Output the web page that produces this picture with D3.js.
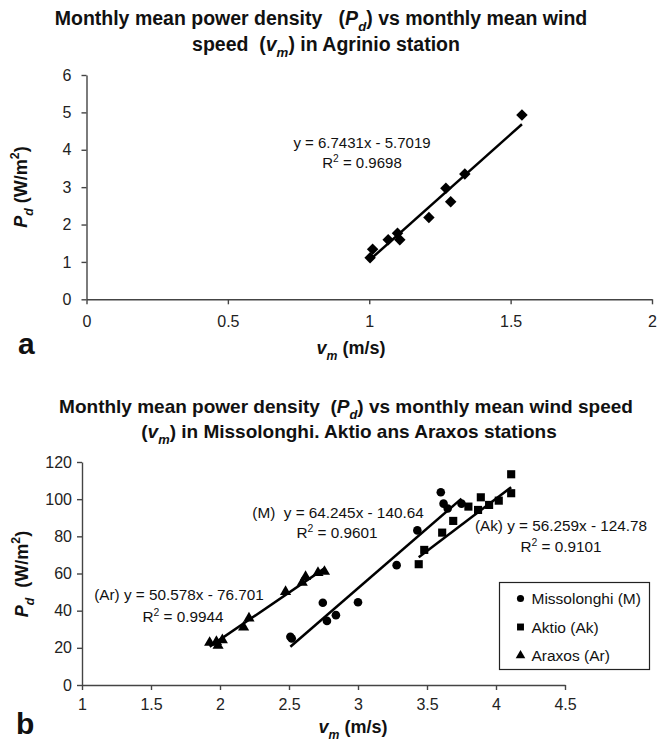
<!DOCTYPE html>
<html>
<head>
<meta charset="utf-8">
<script src="https://cdn.jsdelivr.net/npm/d3@7"></script>
<style>
  html, body { margin: 0; padding: 0; background: #fff; }
  svg { display: block; font-family: "Liberation Sans", Arial, Helvetica, sans-serif; }
</style>
</head>
<body>
<svg id="chart" width="672" height="741"></svg>
<script>
// Agrinio station (panel a)
const agrinioV = [1.003, 1.012, 1.067, 1.10, 1.108, 1.211, 1.271, 1.288, 1.338, 1.54];
const agrinioP = [1.11, 1.34, 1.59, 1.77, 1.59, 2.19, 2.97, 2.61, 3.35, 4.93];
const agrinioFit = [6.7431, -5.7019, 0.9698];

// Missolonghi (M)
const missV = [2.51, 2.52, 2.745, 2.775, 2.84, 3.0, 3.28, 3.43, 3.60, 3.62, 3.65, 3.75];
const missP = [26.0, 25.0, 44.3, 34.5, 37.6, 44.5, 64.5, 83.2, 103.7, 97.6, 95.0, 97.6];
const missFit = [64.245, -140.64, 0.9601];

// Aktio (Ak)
const aktioV = [3.44, 3.48, 3.61, 3.69, 3.80, 3.87, 3.89, 3.95, 4.02, 4.11, 4.11];
const aktioP = [65.0, 72.7, 82.0, 88.3, 96.0, 94.2, 101.0, 96.9, 99.2, 103.2, 113.4];
const aktioFit = [56.259, -124.78, 0.9101];

// Araxos (Ar)
const araxosV = [1.925, 1.974, 1.986, 2.017, 2.171, 2.21, 2.475, 2.596, 2.62, 2.71, 2.757];
const araxosP = [22.8, 23.3, 21.2, 24.2, 31.0, 35.9, 50.2, 55.1, 58.3, 60.4, 61.0];
const araxosFit = [50.578, -76.701, 0.9944];

const aTicksX = [0, 0.5, 1, 1.5, 2];
const aTicksY = [0, 1, 2, 3, 4, 5, 6];
const bTicksX = [1, 1.5, 2, 2.5, 3, 3.5, 4, 4.5];
const bTicksY = [0, 20, 40, 60, 80, 100, 120];

const legendNames = ['Missolonghi (M)', 'Aktio (Ak)', 'Araxos (Ar)'];

const svg = d3.select('#chart');
svg.append('rect').attr('width', 672).attr('height', 741).attr('fill', '#fff');

// text with italic / sub / sup parts
function rich(g, x, y, parts, size, weight, anchor) {
  const t = g.append('text')
    .attr('x', x).attr('y', y)
    .attr('font-size', size)
    .attr('font-weight', weight || 'normal')
    .attr('text-anchor', anchor || 'middle')
    .attr('fill', '#111')
    .style('white-space', 'pre');
  let shift = 0;
  parts.forEach((p) => {
    const s = t.append('tspan').text(p.t);
    const target = p.sub ? size * 0.32 : p.sup ? -size * 0.42 : 0;
    if (target !== shift) { s.attr('dy', target - shift); shift = target; }
    if (p.sub || p.sup) s.attr('font-size', size * 0.68);
    if (p.i) s.attr('font-style', 'italic');
  });
  return t;
}

function fmt(n) { return String(Math.abs(n)); }

function drawPanel(cfg) {
  const x = d3.scaleLinear().domain(cfg.xDomain).range(cfg.xRange);
  const y = d3.scaleLinear().domain(cfg.yDomain).range(cfg.yRange);
  const g = svg.append('g');

  const xAxis = d3.axisBottom(x).tickValues(cfg.ticksX).tickFormat(d3.format('')).tickSizeInner(5).tickSizeOuter(0).tickPadding(cfg.xPad);
  const yAxis = d3.axisLeft(y).tickValues(cfg.ticksY).tickFormat(d3.format('')).tickSizeInner(5).tickSizeOuter(0).tickPadding(cfg.yPad);

  const gx = g.append('g').attr('transform', `translate(0,${cfg.yRange[0]})`).call(xAxis);
  const gy = g.append('g').attr('transform', `translate(${cfg.xRange[0]},0)`).call(yAxis);
  [gx, gy].forEach((a) => {
    a.selectAll('path, line').attr('stroke', '#444').attr('stroke-width', 1.4);
    a.selectAll('text').attr('font-size', 16).attr('fill', '#222')
      .style('font-family', '"Liberation Sans", Arial, sans-serif');
  });

  // trend lines
  cfg.series.forEach((s) => {
    const x0 = d3.min(s.v), x1 = d3.max(s.v);
    g.append('line')
      .attr('x1', x(x0)).attr('y1', y(s.fit[0] * x0 + s.fit[1]))
      .attr('x2', x(x1)).attr('y2', y(s.fit[0] * x1 + s.fit[1]))
      .attr('stroke', '#000').attr('stroke-width', 2.5);
  });

  // markers
  cfg.series.forEach((s) => {
    const sym = d3.symbol().type(s.shape).size(s.size);
    g.append('g').selectAll('path')
      .data(s.v.map((v, i) => [v, s.p[i]]))
      .join('path')
      .attr('d', sym)
      .attr('transform', (d) => `translate(${x(d[0])},${y(d[1])})${s.rot ? ' rotate(45)' : ''}`)
      .attr('fill', '#000');
  });

  return { x, y, g };
}

// ---------- panel a ----------
const A = drawPanel({
  xDomain: [0, 2], xRange: [86.5, 652],
  yDomain: [0, 6], yRange: [299.3, 75],
  ticksX: aTicksX, ticksY: aTicksY, xPad: 11, yPad: 10,
  series: [{ v: agrinioV, p: agrinioP, fit: agrinioFit, shape: d3.symbolSquare, size: 66, rot: true }]
});

rich(svg, 321, 25, [
  { t: 'Monthly mean power density   (' }, { t: 'P', i: true }, { t: 'd', i: true, sub: true }, { t: ') vs monthly mean wind' }
], 19.5, 'bold');
rich(svg, 326, 51, [
  { t: 'speed  (' }, { t: 'v', i: true }, { t: 'm', i: true, sub: true }, { t: ') in Agrinio station' }
], 19.5, 'bold');

rich(svg, 362, 148, [{ t: `y = ${agrinioFit[0]}x - ${fmt(agrinioFit[1])}` }], 15);
rich(svg, 362, 168, [{ t: 'R' }, { t: '2', sup: true }, { t: ` = ${agrinioFit[2]}` }], 15);

rich(svg, 351, 354, [{ t: 'v', i: true }, { t: 'm', i: true, sub: true }, { t: ' (m/s)' }], 18, 'bold');
rich(svg, 0, 0, [{ t: 'P', i: true }, { t: 'd', i: true, sub: true }, { t: ' (W/m' }, { t: '2', sup: true }, { t: ')' }], 18, 'bold')
  .attr('transform', 'translate(27,187) rotate(-90)');
svg.append('text').attr('x', 18).attr('y', 354).attr('font-size', 30).attr('font-weight', 'bold').attr('fill', '#111').text('a');

// ---------- panel b ----------
const B = drawPanel({
  xDomain: [1, 4.5], xRange: [82, 565],
  yDomain: [0, 120], yRange: [685, 462],
  ticksX: bTicksX, ticksY: bTicksY, xPad: 9, yPad: 5,
  series: [
    { v: missV, p: missP, fit: missFit, shape: d3.symbolCircle, size: 58 },
    { v: aktioV, p: aktioP, fit: aktioFit, shape: d3.symbolSquare, size: 66 },
    { v: araxosV, p: araxosP, fit: araxosFit, shape: d3.symbolTriangle, size: 54 }
  ]
});

rich(svg, 346, 413, [
  { t: 'Monthly mean power density  (' }, { t: 'P', i: true }, { t: 'd', i: true, sub: true }, { t: ') vs monthly mean wind speed' }
], 19, 'bold');
rich(svg, 349, 438, [
  { t: '(' }, { t: 'v', i: true }, { t: 'm', i: true, sub: true }, { t: ') in Missolonghi. Aktio ans Araxos stations' }
], 19, 'bold');

rich(svg, 338, 518, [{ t: `(M)  y = ${missFit[0]}x - ${fmt(missFit[1])}` }], 15.3);
rich(svg, 337, 538, [{ t: 'R' }, { t: '2', sup: true }, { t: ` = ${missFit[2]}` }], 15.3);
rich(svg, 561, 531, [{ t: `(Ak) y = ${aktioFit[0]}x - ${fmt(aktioFit[1])}` }], 15.3);
rich(svg, 561, 552, [{ t: 'R' }, { t: '2', sup: true }, { t: ` = ${aktioFit[2]}` }], 15.3);
rich(svg, 179, 600, [{ t: `(Ar) y = ${araxosFit[0]}x - ${fmt(araxosFit[1])}` }], 15.3);
rich(svg, 183, 622, [{ t: 'R' }, { t: '2', sup: true }, { t: ` = ${araxosFit[2]}` }], 15.3);

rich(svg, 353, 733, [{ t: 'v', i: true }, { t: 'm', i: true, sub: true }, { t: ' (m/s)' }], 18, 'bold');
rich(svg, 0, 0, [{ t: 'P', i: true }, { t: 'd', i: true, sub: true }, { t: '  (W/m' }, { t: '2', sup: true }, { t: ')' }], 18, 'bold')
  .attr('transform', 'translate(28,574) rotate(-90)');
svg.append('text').attr('x', 16).attr('y', 734).attr('font-size', 30).attr('font-weight', 'bold').attr('fill', '#111').text('b');

// legend
const legend = svg.append('g').attr('transform', 'translate(499.5,582.5)');
legend.append('rect').attr('width', 150).attr('height', 87).attr('fill', '#fff').attr('stroke', '#222').attr('stroke-width', 1.2);
const legendShapes = [d3.symbolCircle, d3.symbolSquare, d3.symbolTriangle];
const legendSizes = [40, 48, 40];
legendNames.forEach((name, i) => {
  const cy = 16 + i * 28.5;
  legend.append('path').attr('d', d3.symbol().type(legendShapes[i]).size(legendSizes[i]))
    .attr('transform', `translate(21,${cy})`).attr('fill', '#000');
  legend.append('text').attr('x', 32).attr('y', cy + 5.5).attr('font-size', 15.5).attr('fill', '#111').text(name);
});
</script>
</body>
</html>
